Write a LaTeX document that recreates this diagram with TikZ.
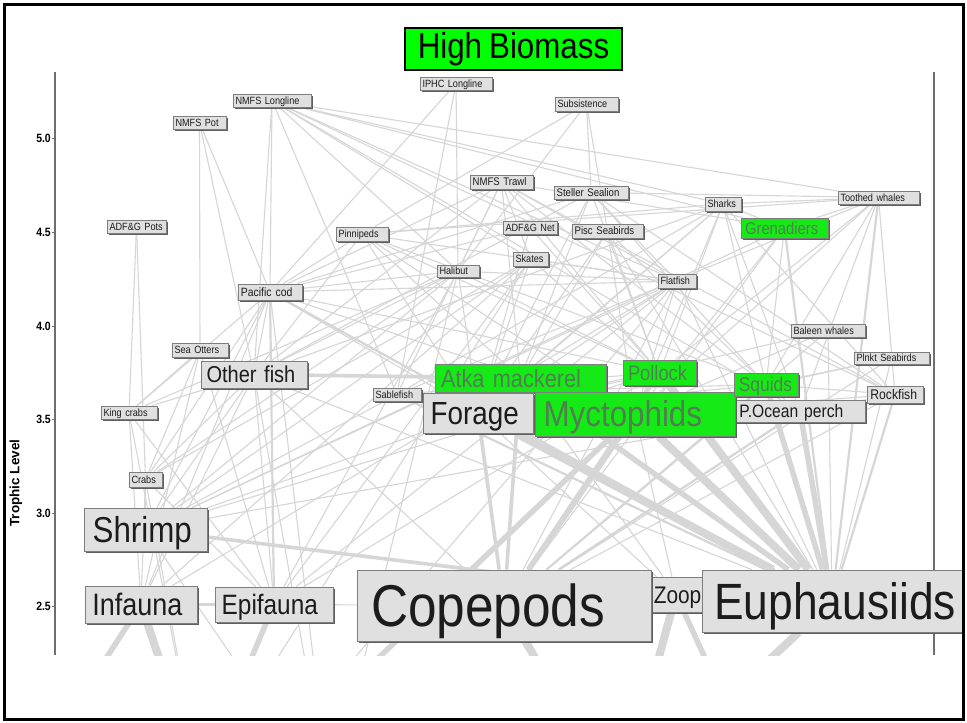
\documentclass[tikz,border=0pt]{standalone}
\usepackage{fontspec}
\setmainfont{Liberation Sans}[FakeStretch=0.87, WordSpace=0.8]
\newfontfamily\plainfont{Liberation Sans}
\usetikzlibrary{shadows}
\pgfdeclarelayer{bg}
\pgfsetlayers{bg,main}
\definecolor{edgec}{RGB}{214,214,214}
\definecolor{boxfill}{RGB}{224,224,224}
\definecolor{boxline}{RGB}{125,125,125}
\definecolor{shad}{RGB}{95,95,95}
\definecolor{hgreen}{RGB}{0,255,0}
\definecolor{ngreen}{RGB}{22,234,22}
\definecolor{gtext}{RGB}{80,128,80}
\definecolor{axisgray}{RGB}{110,110,110}
\definecolor{ntext}{RGB}{28,28,28}
\tikzset{
 fwbox/.style={draw=boxline, line width=0.8pt, fill=boxfill, text=ntext,
   drop shadow={shadow xshift=1.6pt, shadow yshift=-1.6pt, fill=shad, opacity=1}},
 fwgreen/.style={fwbox, fill=ngreen, text=gtext},
 ea/.style={draw=edgec, line width=1.1pt},
 eb/.style={draw=edgec, line width=2.2pt},
 ec/.style={draw=edgec, line width=3.6pt},
 ed/.style={draw=edgec, line width=5.5pt},
 ee/.style={draw=edgec, line width=8pt},
 ticklab/.style={anchor=east, inner sep=0pt, font=\bfseries\fontsize{12}{12}\selectfont},
}
\newcommand\fwnode[8]{%
 \pgfmathsetmacro\fwpad{0.24*#6}%
 \pgfmathsetmacro\fwtw{#4-#2-2*\fwpad}%
 \pgfmathsetmacro\fwh{#5-#3}%
 \node[#7, inner xsep=\fwpad pt, inner ysep=0pt, text width=\fwtw pt,
   minimum height=\fwh pt, align=left, text height={0.72*#6pt}, text depth=0pt,
   font=\fontsize{#6}{#6}\selectfont] (#1) at ({(#2+#4)/2},{(#3+#5)/2}) {\mbox{#8}};}
\begin{document}
\begin{tikzpicture}[x=1pt,y=-1pt]
\useasboundingbox (0,0) rectangle (967,723);
\begin{pgfonlayer}{bg}
\fill[white] (0,0) rectangle (967,723);
\end{pgfonlayer}
% axes
\draw[axisgray, line width=1.2pt] (55,72) -- (55,655);
\draw[axisgray, line width=1.2pt] (934,72) -- (934,655);
\foreach \yy/\lab in {138/5.0,232/4.5,326/4.0,419/3.5,513/3.0,606/2.5}{
  \draw[axisgray, line width=0.8pt] (52,\yy) -- (55,\yy);
  \node[ticklab] at (51,\yy) {\lab};
}
\node[rotate=90, inner sep=0pt, font=\plainfont\bfseries\fontsize{13.5}{13.5}\selectfont] (ylab) at (16,483) {Trophic Level};
% title
\node[draw=black, line width=1.2pt, fill=hgreen, minimum width=217, minimum height=42, inner sep=0pt,
  font=\fontsize{36}{36}\selectfont] (title) at (513.5,49) {High Biomass};
% nodes
\fwnode{IPHC}{420}{77}{492}{90}{10.5}{fwbox}{IPHC Longline}
\fwnode{NMFSLL}{233}{94}{311}{107}{10.5}{fwbox}{NMFS Longline}
\fwnode{NMFSPot}{173}{116}{226}{129}{10.5}{fwbox}{NMFS Pot}
\fwnode{ADFGPots}{107}{220}{166}{233}{10.5}{fwbox}{ADF\&G Pots}
\fwnode{Pinn}{336}{227}{388}{241}{10.5}{fwbox}{Pinnipeds}
\fwnode{Halibut}{437}{265}{479}{277}{10.5}{fwbox}{Halibut}
\fwnode{Pcod}{238}{284}{302}{300}{12}{fwbox}{Pacific cod}
\fwnode{Subs}{555}{97}{618}{111}{10.5}{fwbox}{Subsistence}
\fwnode{NMFSTrawl}{470}{175}{533}{189}{11}{fwbox}{NMFS Trawl}
\fwnode{Steller}{554}{186}{628}{199}{11}{fwbox}{Steller Sealion}
\fwnode{ADFGNet}{503}{221}{557}{234}{10.5}{fwbox}{ADF\&G Net}
\fwnode{PiscSB}{572}{224}{643}{238}{11}{fwbox}{Pisc Seabirds}
\fwnode{Skates}{513}{252}{548}{266}{10.5}{fwbox}{Skates}
\fwnode{Flatfish}{658}{274}{696}{288}{10.5}{fwbox}{Flatfish}
\fwnode{Sharks}{705}{197}{741}{211}{10.5}{fwbox}{Sharks}
\fwnode{Toothed}{838}{191}{919}{204}{10.5}{fwbox}{Toothed whales}
\fwnode{Gren}{741}{218}{828}{238}{17}{fwgreen}{Grenadiers}
\fwnode{Baleen}{791}{324}{865}{337}{10.5}{fwbox}{Baleen whales}
\fwnode{Plnkt}{854}{352}{929}{364}{10.5}{fwbox}{Plnkt Seabirds}
\fwnode{Rockfish}{867}{386}{923}{403}{14}{fwbox}{Rockfish}
\fwnode{POP}{735}{400}{865}{422}{18}{fwbox}{P.Ocean perch}
\fwnode{Pollock}{623}{360}{696}{385}{21}{fwgreen}{Pollock}
\fwnode{Atka}{435}{364}{606}{392}{25}{fwgreen}{Atka mackerel}
\fwnode{Forage}{423}{393}{533}{433}{32}{fwbox}{Forage}
\fwnode{Myct}{535}{392}{735}{436}{36}{fwgreen}{Myctophids}
\fwnode{Squids}{734}{373}{798}{396}{20}{fwgreen}{Squids}
\fwnode{Sable}{373}{388}{421}{401}{10.5}{fwbox}{Sablefish}
\fwnode{Other}{201}{361}{307}{388}{23}{fwbox}{Other fish}
\fwnode{SeaOtt}{172}{343}{228}{357}{10.5}{fwbox}{Sea Otters}
\fwnode{King}{101}{406}{157}{419}{10.5}{fwbox}{King crabs}
\fwnode{Crabs}{129}{472}{162}{487}{10.5}{fwbox}{Crabs}
\fwnode{Shrimp}{84}{508}{207}{551}{36}{fwbox}{Shrimp}
\fwnode{Infauna}{85}{586}{197}{623}{31}{fwbox}{Infauna}
\fwnode{Epifauna}{215}{587}{333}{622}{28}{fwbox}{Epifauna}
\fwnode{Zoop}{648}{577}{704}{612}{24}{fwbox}{Zoop}
\fwnode{Copepods}{357}{570}{651}{641}{59}{fwbox}{Copepods}
\fwnode{Euph}{702}{570}{962}{632}{51}{fwbox}{Euphausiids}
% off-window end points
\coordinate (phyto) at (620,800);
\coordinate (dR) at (770,800);
\coordinate (dA) at (250,780);
\coordinate (dD) at (200,780);
\coordinate (dE) at (40,760);
\coordinate (dF) at (330,800);
% connectors
\begin{pgfonlayer}{bg}
\begin{scope}
\clip (55,72) rectangle (934,655);
\foreach \a/\b in {NMFSLL/Pcod, NMFSLL/Other, NMFSLL/Sable, NMFSLL/Halibut, NMFSLL/Skates, NMFSLL/Sharks, NMFSLL/Toothed, NMFSLL/Gren, NMFSLL/Flatfish, NMFSLL/Rockfish, NMFSLL/POP,
NMFSPot/Pcod, NMFSPot/SeaOtt, NMFSPot/Other,
ADFGPots/King, ADFGPots/Crabs,
IPHC/Halibut, IPHC/Sable, IPHC/Pcod,
Subs/Pinn, Subs/Steller, Subs/Halibut, Subs/PiscSB,
NMFSTrawl/Pollock, NMFSTrawl/Pcod, NMFSTrawl/Flatfish, NMFSTrawl/Atka, NMFSTrawl/POP, NMFSTrawl/Rockfish, NMFSTrawl/Skates, NMFSTrawl/Halibut, NMFSTrawl/Sable, NMFSTrawl/Other, NMFSTrawl/Gren,
Steller/Pollock, Steller/Atka, Steller/Pcod, Steller/Forage, Steller/Squids, Steller/Flatfish, Steller/Other, Steller/Rockfish,
ADFGNet/Forage, ADFGNet/Pcod, ADFGNet/Pollock,
PiscSB/Forage, PiscSB/Myct, PiscSB/Pollock, PiscSB/Squids, PiscSB/Atka, PiscSB/Euph,
Skates/Shrimp, Skates/Crabs, Skates/Epifauna, Skates/Flatfish, Skates/Forage, Skates/Pollock, Skates/Infauna,
Halibut/Pcod, Halibut/Pollock, Halibut/Flatfish, Halibut/Crabs, Halibut/Shrimp, Halibut/Other, Halibut/Forage, Halibut/Epifauna, Halibut/King,
Pinn/Pollock, Pinn/Forage, Pinn/Other, Pinn/Atka, Pinn/Pcod, Pinn/Squids, Pinn/Myct, Pinn/Flatfish,
Flatfish/Infauna, Flatfish/Epifauna, Flatfish/Shrimp, Flatfish/Copepods, Flatfish/Euph, Flatfish/Forage, Flatfish/Myct,
Sharks/Squids, Sharks/Pollock, Sharks/Gren, Sharks/Forage, Sharks/Myct, Sharks/POP, Sharks/Rockfish, Sharks/Other, Sharks/Sable, Sharks/Pinn, Sharks/Atka,
Toothed/Squids, Toothed/Gren, Toothed/Myct, Toothed/Rockfish, Toothed/Pinn, Toothed/POP, Toothed/Pollock, Toothed/Sable, Toothed/Steller, Toothed/Sharks,
Gren/Myct, Gren/Squids, Gren/Shrimp, Gren/Copepods,
Baleen/Euph, Baleen/Copepods, Baleen/Forage, Baleen/Myct,
Plnkt/Euph, Plnkt/Copepods, Plnkt/Myct, Plnkt/Squids,
Rockfish/Myct, Rockfish/Squids, Rockfish/Shrimp, Rockfish/Copepods,
Sable/Myct, Sable/Squids, Sable/Forage, Sable/Shrimp, Sable/Pollock,
Other/Epifauna, Other/Infauna, Other/Shrimp, Other/Euph, Other/Copepods, Other/Crabs, Other/King,
SeaOtt/Epifauna, SeaOtt/Crabs, SeaOtt/Infauna, SeaOtt/King,
King/Infauna, King/Epifauna, Crabs/Infauna, Crabs/Epifauna, Crabs/Shrimp,
Pcod/Pollock, Pcod/Shrimp, Pcod/Crabs, Pcod/King, Pcod/Infauna, Pcod/Other, Pcod/Forage, Pcod/Flatfish, Pcod/Myct,
Squids/Forage, POP/Myct, Pollock/Forage, Pollock/Myct, Pollock/Shrimp, Pollock/Epifauna, Atka/Myct, Atka/Zoop, Forage/Zoop, Forage/Shrimp, Myct/Zoop, Epifauna/Copepods,
Crabs/dD, King/dD, Shrimp/dF, Other/dF, Pcod/dF, Flatfish/dA, Skates/dD, Halibut/dF}
  \draw[ea] (\a) -- (\b);
\foreach \a/\b in {Gren/Euph, Rockfish/Euph, Sable/Euph, Pcod/Euph, Pcod/Epifauna, Squids/Copepods, POP/Copepods, Toothed/Euph}
  \draw[eb] (\a) -- (\b);
\foreach \a/\b in {Pollock/Copepods, Squids/Myct, Atka/Copepods, Forage/Copepods, Other/Atka, Copepods/Zoop, Zoop/Euph, Infauna/Epifauna, Shrimp/Zoop}
  \draw[ec] (\a) -- (\b);
\foreach \a/\b in {POP/Euph, Atka/Euph, Squids/Euph, Myct/dA, Zoop/dR, Infauna/dE, Epifauna/dD, Myct/Copepods}
  \draw[ed] (\a) -- (\b);
\foreach \a/\b in {Myct/Euph, Forage/Euph, Pollock/Euph, Copepods/phyto, Euph/phyto, Zoop/phyto, Infauna/dD}
  \draw[ee] (\a) -- (\b);
\end{scope}
\end{pgfonlayer}
% slide frame
\draw[black, line width=3pt] (4,4) rectangle (963,719);
\end{tikzpicture}
\end{document}
